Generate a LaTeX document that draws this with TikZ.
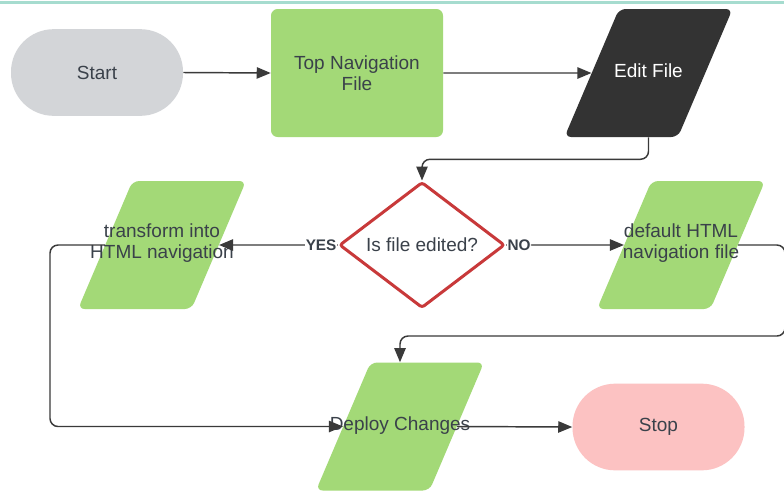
\documentclass[tikz,border=0pt]{standalone}
\usepackage{fontspec}
\setmainfont{Liberation Sans}
\usetikzlibrary{shapes.geometric,arrows.meta,calc}

\definecolor{leaf}{HTML}{A3D977}
\definecolor{stone}{HTML}{D3D5D8}
\definecolor{blush}{HTML}{FCC2C2}
\definecolor{coal}{HTML}{333333}
\definecolor{alarm}{HTML}{C8393A}
\definecolor{ink}{HTML}{3A414A}
\definecolor{wire}{HTML}{3A3A3A}
\definecolor{teal}{HTML}{A6DCCF}

\tikzset{
  txt/.style={font=\fontsize{14.25pt}{16pt}\selectfont, text=ink, align=center, inner sep=0pt},
  terminal/.style={txt, rectangle, rounded corners=32pt, minimum width=129pt, minimum height=65pt},
  procbox/.style={txt, rectangle, rounded corners=5pt, minimum width=129pt, minimum height=96pt},
  para/.style={trapezium, trapezium left angle=77, trapezium right angle=103,
    trapezium stretches=true, minimum width=126pt, minimum height=96pt,
    rounded corners=5pt, inner sep=2pt},
  decision/.style={txt, diamond, draw=alarm, line width=2.25pt, fill=white,
    minimum width=124pt, minimum height=93pt, rounded corners=2pt},
  conn/.style={draw=wire, line width=1.1pt, rounded corners=6pt,
    -{Triangle[length=10.5pt,width=8.5pt]}},
  tag/.style={font=\fontsize{11.5pt}{13pt}\selectfont\bfseries, text=ink,
    fill=white, inner sep=0.5pt},
}

\begin{document}
\begin{tikzpicture}[x=0.75pt,y=-0.75pt]
  \useasboundingbox (0,0) rectangle (784,490);
  \clip (0,0) rectangle (784,490);
  \fill[white] (0,0) rectangle (784,490);
  \fill[teal] (0,0.5) rectangle (784,3.5);

  % top row
  \node[terminal, fill=stone] (start) at (97,72.5) {Start};
  \node[procbox, fill=leaf] (topnav) at (357,73) {Top Navigation\\File};
  \node[para, fill=coal] (edit) at (648.5,73) {\strut};
  \node[txt, text=white] (edit-t) at (648.5,71) {Edit File};

  % decision row
  \node[decision] (dia) at (422,245) {Is file edited?};
  \node[para, fill=leaf] (trans) at (162,245) {\strut};
  \node[txt] (trans-t) at (162,243) {transform into\\HTML navigation};
  \node[para, fill=leaf] (def) at (681,245) {\strut};
  \node[txt] (def-t) at (681,243) {default HTML\\navigation file};

  % bottom row
  \node[para, fill=leaf] (deploy) at (400,426.5) {\strut};
  \node[txt] (deploy-t) at (400,425.5) {Deploy Changes};
  \node[terminal, fill=blush] (stop) at (658.5,427) {Stop};

  % free corners of the return lines
  \coordinate (lc) at (50,426.5);
  \coordinate (rc) at (785,336);

  % connectors
  \draw[conn] (start.east) -- (topnav.west);
  \draw[conn] (topnav.east) -- (edit.west);
  \draw[conn] (edit.center |- edit.south) -- ++(0,22) -| (dia.north);
  \draw[conn] (dia.west) -- node[tag, pos=0, anchor=east] (yes) {YES} (trans.east);
  \draw[conn] (dia.east) -- node[tag, pos=0, anchor=west] (no) {NO} (def.west);
  \draw[conn] (trans.west) -| (lc) -- (deploy.west);
  \draw[conn] (def.east) -| (rc) -| (deploy.center |- deploy.north);
  \draw[conn] (deploy.east) -- (stop.west);
\end{tikzpicture}
\end{document}
